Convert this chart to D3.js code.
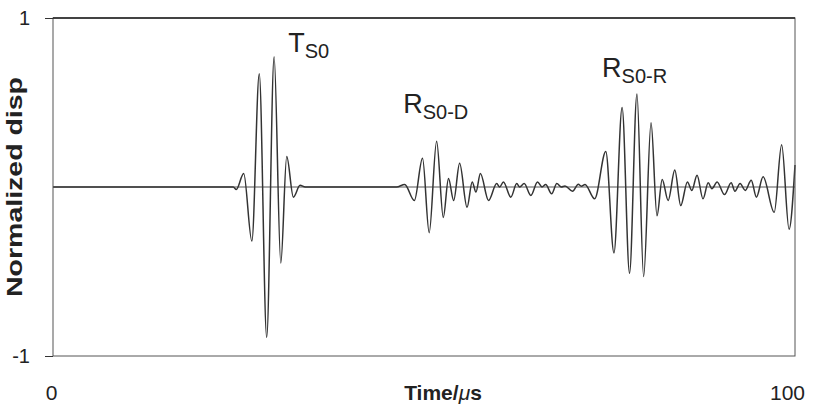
<!DOCTYPE html>
<html>
<head>
<meta charset="utf-8">
<title>Normalized displacement signal</title>
<style>
body {
  margin: 0;
  background: #fff;
  font-family: "Liberation Sans", Arial, sans-serif;
}

.axis text {
  font-family: "Liberation Sans", Arial, sans-serif;
  font-size: 20px;
  fill: #222;
}

.axis line {
  stroke: #333;
}

.frame {
  fill: none;
  stroke: #555;
  stroke-width: 1;
}

.zero {
  stroke: #555;
  stroke-width: 1;
}

.wave {
  fill: none;
  stroke: #333;
  stroke-width: 1.5;
}

.note {
  font-size: 27px;
  fill: #222;
}
</style>
<script src="https://d3js.org/d3.v7.min.js"></script>
</head>
<body>
<script>
// waveform: time in microseconds, normalized displacement
const times = [0, 24.3, 24.7, 25.7, 26.8, 27.8, 28.8, 29.8, 30.7, 31.5, 32.4, 33.3, 34.0,
  46.3, 47.4, 48.7, 49.8, 50.7, 51.7, 52.6, 53.3, 54.0, 54.8, 55.8, 56.5, 57.0, 57.6, 58.7,
  59.8, 60.2, 60.7, 61.7, 62.5, 62.9, 63.5, 64.4, 65.3, 65.9, 66.4, 67.2, 67.9, 68.5, 69.0,
  70.0, 70.8, 71.2, 71.7, 73.0, 74.5, 75.6, 76.7, 77.7, 78.7, 79.6, 80.6, 81.4, 82.1, 82.9,
  83.8, 84.6, 85.5, 86.1, 86.8, 87.6, 88.3, 88.8, 89.5, 90.5, 91.4, 91.9, 92.6, 93.3, 94.1,
  94.8, 95.7, 97.2, 98.2, 99.2, 100];

const disp = [0, 0, -0.015, 0.08, -0.32, 0.67, -0.89, 0.77, -0.45, 0.18, -0.06, 0.01, 0,
  0, 0.015, -0.08, 0.17, -0.27, 0.27, -0.18, 0.05, -0.08, 0.14, -0.12, 0.03, -0.03, 0.08, -0.08,
  0.02, 0.0, 0.03, -0.06, 0.02, 0.0, 0.02, -0.05, 0.03, 0.0, 0.015, -0.04, 0.02, 0.0, 0.006,
  -0.025, 0.016, 0.005, 0.015, -0.07, 0.21, -0.39, 0.47, -0.51, 0.55, -0.53, 0.38, -0.17, 0.045, -0.08,
  0.1, -0.11, 0.03, -0.02, 0.07, -0.07, 0.025, -0.01, 0.03, -0.045, 0.025, -0.025, 0.02, -0.02, 0.04,
  -0.06, 0.06, -0.15, 0.25, -0.25, 0.13];

const xTicks = [0, 100];
const yTicks = [-1, 1];

// wave packet labels: main letter, subscript, anchor (time, disp)
const noteMain = ['T', 'R', 'R'];
const noteSub = ['S0', 'S0-D', 'S0-R'];
const noteT = [31.7, 47.2, 74.0];
const noteV = [0.797, 0.436, 0.651];

const width = 819,
  height = 417,
  margin = {top: 18, right: 24, bottom: 61, left: 53};

const svg = d3.select('body').append('svg')
  .attr('width', width)
  .attr('height', height);

const x = d3.scaleLinear()
  .domain([0, 100])
  .range([margin.left, width - margin.right]);

const y = d3.scaleLinear()
  .domain([-1, 1])
  .range([height - margin.bottom, margin.top]);

const data = times.map((t, i) => ({t: t, v: disp[i]}));

// zero line
svg.append('line')
  .attr('class', 'zero')
  .attr('x1', x(0))
  .attr('x2', x(100))
  .attr('y1', y(0))
  .attr('y2', y(0));

const line = d3.line()
  .x(d => x(d.t))
  .y(d => y(d.v))
  .curve(d3.curveMonotoneX);

svg.append('path')
  .datum(data)
  .attr('class', 'wave')
  .attr('d', line);

// plot frame
svg.append('rect')
  .attr('class', 'frame')
  .attr('x', x(0))
  .attr('y', y(1))
  .attr('width', x(100) - x(0))
  .attr('height', y(-1) - y(1));

svg.append('line')
  .attr('x1', x(0))
  .attr('x2', x(100))
  .attr('y1', y(1))
  .attr('y2', y(1))
  .style('stroke', '#222')
  .style('stroke-width', 1.6);

// axes
const yAxis = svg.append('g')
  .attr('class', 'axis')
  .attr('transform', 'translate(' + x(0) + ',0)')
  .call(d3.axisLeft(y).tickValues(yTicks).tickSize(8).tickPadding(15).tickFormat(d => String(d)));
yAxis.select('.domain').remove();

const xAxis = svg.append('g')
  .attr('class', 'axis')
  .attr('transform', 'translate(0,' + y(-1) + ')')
  .call(d3.axisBottom(x).tickValues(xTicks).tickSize(0).tickPadding(29).tickFormat(d => String(d)));
xAxis.select('.domain').remove();
xAxis.selectAll('.tick text')
  .style('font-size', '21px')
  .attr('dx', d => d === 100 ? -8 : -2);

// axis titles
const xTitle = svg.append('text')
  .attr('x', (x(0) + x(100)) / 2 + 19)
  .attr('y', 400)
  .attr('text-anchor', 'middle')
  .style('font-size', '21px')
  .style('font-weight', 'bold')
  .style('fill', '#222');
xTitle.append('tspan').text('Time/');
xTitle.append('tspan').style('font-style', 'italic').style('font-weight', 'normal').text('\u03bc');
xTitle.append('tspan').text('s');

svg.append('text')
  .attr('transform', 'translate(22,187) rotate(-90)')
  .attr('text-anchor', 'middle')
  .attr('textLength', 220)
  .attr('lengthAdjust', 'spacingAndGlyphs')
  .style('font-size', '22px')
  .style('font-weight', 'bold')
  .style('fill', '#222')
  .text('Normalized disp');

// packet labels
noteMain.forEach((m, i) => {
  const t = svg.append('text')
    .attr('class', 'note')
    .attr('x', x(noteT[i]))
    .attr('y', y(noteV[i]));
  t.append('tspan').text(m);
  t.append('tspan')
    .attr('dy', 6)
    .style('font-size', '20px')
    .text(noteSub[i]);
});
</script>
</body>
</html>
